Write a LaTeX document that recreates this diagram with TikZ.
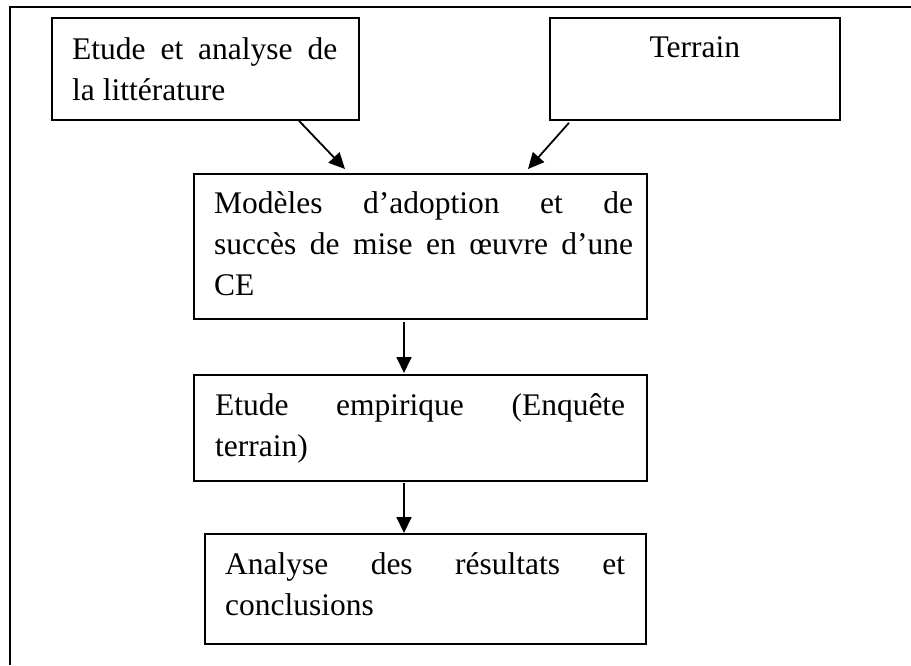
\documentclass[tikz,border=0pt]{standalone}
\usepackage{fontspec}
\setmainfont{Liberation Serif}
\usetikzlibrary{arrows.meta,calc}
\begin{document}
\begin{tikzpicture}[x=1pt,y=-1pt,
  box/.style={draw, line width=1.8pt, rectangle, inner sep=0pt, anchor=north west},
  txt/.style={anchor=base west, inner sep=0pt, align=justify, font=\fontsize{31.5}{41}\selectfont},
  arr/.style={line width=1.8pt, -{Triangle[length=16pt,width=15pt]}},
  frame/.style={line width=1.6pt}]
\useasboundingbox (0,0) rectangle (911,665);
% outer frame
\coordinate (fl) at (10,665);
\coordinate (fc) at (10,7);
\coordinate (fr) at (911,7);
\draw[frame] (fl) -- (fc) -- (fr);
% boxes
\node[box, minimum width=307pt, minimum height=102pt] (b1) at (51,17) {};
\node[box, minimum width=290pt, minimum height=102pt] (b2) at (549,17) {};
\node[box, minimum width=453pt, minimum height=145pt] (b3) at (193,173) {};
\node[box, minimum width=453pt, minimum height=106pt] (b4) at (193,374) {};
\node[box, minimum width=441pt, minimum height=110pt] (b5) at (204,533) {};
% texts
\node[txt, text width=265pt] (t1) at ($(b1.north west)+(21,42)$) {Etude et analyse de\linebreak la littérature};
\node[txt, anchor=base] (t2) at ($(b2.north)+(0,40)$) {Terrain};
\node[txt, text width=419pt] (t3) at ($(b3.north west)+(21,40)$) {Modèles d’adoption et de\linebreak succès de mise en œuvre d’une\linebreak CE};
\node[txt, text width=410pt] (t4) at ($(b4.north west)+(22,41)$) {Etude empirique (Enquête\linebreak terrain)};
\node[txt, text width=400pt] (t5) at ($(b5.north west)+(21,41)$) {Analyse des résultats et\linebreak conclusions};
% arrows
\draw[arr] ($(b1.south west)+(248,0)$) -- ($(b3.north west)+(152,-4)$);
\draw[arr] ($(b2.south west)+(20,2)$) -- ($(b3.north west)+(335,-4)$);
\draw[arr] ($(b3.south west)+(211,2)$) -- ($(b4.north west)+(211,-1)$);
\draw[arr] ($(b4.south west)+(211,1)$) -- ($(b5.north west)+(200,0)$);
\end{tikzpicture}
\end{document}
